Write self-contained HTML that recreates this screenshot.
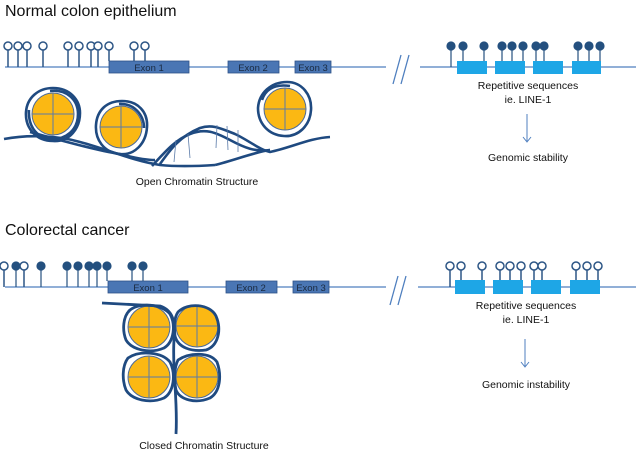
<!DOCTYPE html>
<html><head><meta charset="utf-8"><style>
html,body{margin:0;padding:0;background:#fff;}
svg{display:block;font-family:"Liberation Sans",sans-serif;}
</style></head><body>
<svg width="640" height="450" viewBox="0 0 640 450" xmlns="http://www.w3.org/2000/svg">
<defs>
<g id="nuc">
<circle r="21" fill="#fbb813" stroke="#4a6a9a" stroke-width="1"/>
<line x1="-21" y1="0" x2="21" y2="0" stroke="#5a7aa8" stroke-width="1"/>
<line x1="0" y1="-21" x2="0" y2="21" stroke="#5a7aa8" stroke-width="1"/>
</g>
</defs>
<text x="5" y="16" font-size="16" fill="#111">Normal colon epithelium</text>
<text x="5" y="235" font-size="16" fill="#111">Colorectal cancer</text>

<g stroke="#4f7fbf" stroke-width="1.3" fill="none">
<line x1="5" y1="67" x2="386" y2="67"/>
<line x1="420" y1="67" x2="636" y2="67"/>
<line x1="393" y1="84" x2="401" y2="55"/><line x1="401" y1="84" x2="409" y2="55"/>
<line x1="5" y1="287" x2="386" y2="287"/>
<line x1="418" y1="287" x2="636" y2="287"/>
<line x1="390" y1="305" x2="398" y2="276"/><line x1="398" y1="305" x2="406" y2="276"/>
</g>
<g fill="#4a76b4" stroke="#2e5288" stroke-width="0.8">
<rect x="109" y="61" width="80" height="12"/><rect x="228" y="61" width="51" height="12"/><rect x="295" y="61" width="36" height="12"/>
<rect x="108" y="281" width="80" height="12"/><rect x="226" y="281" width="51" height="12"/><rect x="293" y="281" width="36" height="12"/>
</g>
<g font-size="9.5" fill="#1a2a40" text-anchor="middle">
<text x="149" y="71">Exon 1</text><text x="253" y="71">Exon 2</text><text x="313" y="71">Exon 3</text>
<text x="148" y="291">Exon 1</text><text x="251" y="291">Exon 2</text><text x="311" y="291">Exon 3</text>
</g>
<g fill="#1ea6e6">
<rect x="457" y="61" width="30" height="13"/><rect x="495" y="61" width="30" height="13"/><rect x="533" y="61" width="30" height="13"/><rect x="572" y="61" width="29" height="13"/>
<rect x="455" y="280" width="30" height="14"/><rect x="493" y="280" width="30" height="14"/><rect x="531" y="280" width="30" height="14"/><rect x="570" y="280" width="30" height="14"/>
</g>
<g stroke="#4f7fbf" stroke-width="1.2">
<g fill="#fff" stroke="#2c5585" stroke-width="1.5">
<line x1="8" y1="50" x2="8" y2="67"/><circle cx="8" cy="46" r="4"/>
<line x1="18" y1="50" x2="18" y2="67"/><circle cx="18" cy="46" r="4"/>
<line x1="27" y1="50" x2="27" y2="67"/><circle cx="27" cy="46" r="4"/>
<line x1="43" y1="50" x2="43" y2="67"/><circle cx="43" cy="46" r="4"/>
<line x1="68" y1="50" x2="68" y2="67"/><circle cx="68" cy="46" r="4"/>
<line x1="79" y1="50" x2="79" y2="67"/><circle cx="79" cy="46" r="4"/>
<line x1="91" y1="50" x2="91" y2="67"/><circle cx="91" cy="46" r="4"/>
<line x1="98" y1="50" x2="98" y2="67"/><circle cx="98" cy="46" r="4"/>
<line x1="109" y1="50" x2="109" y2="61"/><circle cx="109" cy="46" r="4"/>
<line x1="134" y1="50" x2="134" y2="61"/><circle cx="134" cy="46" r="4"/>
<line x1="145" y1="50" x2="145" y2="61"/><circle cx="145" cy="46" r="4"/>
<line x1="450" y1="270" x2="450" y2="287"/><circle cx="450" cy="266" r="4"/>
<line x1="461" y1="270" x2="461" y2="280"/><circle cx="461" cy="266" r="4"/>
<line x1="482" y1="270" x2="482" y2="280"/><circle cx="482" cy="266" r="4"/>
<line x1="500" y1="270" x2="500" y2="280"/><circle cx="500" cy="266" r="4"/>
<line x1="510" y1="270" x2="510" y2="280"/><circle cx="510" cy="266" r="4"/>
<line x1="521" y1="270" x2="521" y2="280"/><circle cx="521" cy="266" r="4"/>
<line x1="534" y1="270" x2="534" y2="280"/><circle cx="534" cy="266" r="4"/>
<line x1="542" y1="270" x2="542" y2="280"/><circle cx="542" cy="266" r="4"/>
<line x1="576" y1="270" x2="576" y2="280"/><circle cx="576" cy="266" r="4"/>
<line x1="587" y1="270" x2="587" y2="280"/><circle cx="587" cy="266" r="4"/>
<line x1="598" y1="270" x2="598" y2="280"/><circle cx="598" cy="266" r="4"/>
<line x1="4" y1="270" x2="4" y2="287"/><circle cx="4" cy="266" r="4"/>
<line x1="24" y1="270" x2="24" y2="287"/><circle cx="24" cy="266" r="4"/>
</g>
<g fill="#24507f" stroke="#24507f" stroke-width="1.2">
<line x1="16" y1="270" x2="16" y2="287"/><circle cx="16" cy="266" r="4"/>
<line x1="41" y1="270" x2="41" y2="287"/><circle cx="41" cy="266" r="4"/>
<line x1="67" y1="270" x2="67" y2="287"/><circle cx="67" cy="266" r="4"/>
<line x1="78" y1="270" x2="78" y2="287"/><circle cx="78" cy="266" r="4"/>
<line x1="89" y1="270" x2="89" y2="287"/><circle cx="89" cy="266" r="4"/>
<line x1="97" y1="270" x2="97" y2="287"/><circle cx="97" cy="266" r="4"/>
<line x1="107" y1="270" x2="107" y2="281"/><circle cx="107" cy="266" r="4"/>
<line x1="132" y1="270" x2="132" y2="281"/><circle cx="132" cy="266" r="4"/>
<line x1="143" y1="270" x2="143" y2="281"/><circle cx="143" cy="266" r="4"/>
<line x1="451" y1="50" x2="451" y2="67"/><circle cx="451" cy="46" r="4"/>
<line x1="463" y1="50" x2="463" y2="61"/><circle cx="463" cy="46" r="4"/>
<line x1="484" y1="50" x2="484" y2="61"/><circle cx="484" cy="46" r="4"/>
<line x1="502" y1="50" x2="502" y2="61"/><circle cx="502" cy="46" r="4"/>
<line x1="512" y1="50" x2="512" y2="61"/><circle cx="512" cy="46" r="4"/>
<line x1="523" y1="50" x2="523" y2="61"/><circle cx="523" cy="46" r="4"/>
<line x1="536" y1="50" x2="536" y2="61"/><circle cx="536" cy="46" r="4"/>
<line x1="544" y1="50" x2="544" y2="61"/><circle cx="544" cy="46" r="4"/>
<line x1="578" y1="50" x2="578" y2="61"/><circle cx="578" cy="46" r="4"/>
<line x1="589" y1="50" x2="589" y2="61"/><circle cx="589" cy="46" r="4"/>
<line x1="600" y1="50" x2="600" y2="61"/><circle cx="600" cy="46" r="4"/>
</g>
</g>

<g font-size="10.5" fill="#111" text-anchor="middle">
<text x="528" y="89">Repetitive sequences</text>
<text x="528" y="103">ie. LINE-1</text>
<text x="528" y="161">Genomic stability</text>
<text x="526" y="309">Repetitive sequences</text>
<text x="526" y="323">ie.  LINE-1</text>
<text x="526" y="388">Genomic instability</text>
<text x="197" y="185">Open Chromatin Structure</text>
<text x="204" y="449">Closed Chromatin Structure</text>
</g>
<g stroke="#4f7fbf" stroke-width="1" fill="none">
<line x1="527" y1="114" x2="527" y2="141"/><polyline points="523,137 527,142 531,137"/>
<line x1="525" y1="339" x2="525" y2="366"/><polyline points="521,362 525,367 529,362"/>
</g>

<!-- open chromatin -->
<use href="#nuc" x="53" y="114"/>
<use href="#nuc" x="121" y="127"/>
<use href="#nuc" x="285" y="109"/>
<g stroke="#1f4a80" stroke-width="2.6" fill="none" stroke-linejoin="round">
<path d="M53 88 C70 88 80 100 80 113 C80 128 70 142 53 141 C36 141 25 128 26 112 C27 98 38 88 53 88 Z"/>
<path d="M50 91 C66 89 78 99 78 114 C78 130 66 140 50 139 C36 137 28 126 29 110"/>
<path d="M122 101 C138 101 148 112 147 127 C146 144 134 156 119 154 C104 152 95 140 96 125 C97 110 107 101 122 101 Z"/>
<path d="M119 104 C134 103 144 115 144 128"/>
<path d="M287 82 C302 82 312 95 311 110 C310 126 298 137 284 136 C268 135 258 123 258 108 C259 93 271 82 287 82 Z"/>
<path d="M262 100 C266 88 276 84 290 86"/>
<path d="M4 139 C30 134 60 136 80 142 C110 150 130 160 160 165 C180 167 200 166 215 165"/>
<path d="M30 132 C60 140 95 150 120 154 C135 158 145 160 155 160"/>
<path d="M152 166 C165 152 175 140 190 134 C205 128 215 132 230 140 C245 148 255 152 270 150"/>
<path d="M160 164 C170 150 180 136 200 128 C212 124 220 128 235 134 C248 140 260 150 270 152 C290 148 310 138 330 137"/>
<path d="M215 165 C235 160 255 152 270 150"/>
</g>
<g stroke="#5a7aa8" stroke-width="0.8">
<line x1="176" y1="140" x2="174" y2="162"/><line x1="188" y1="134" x2="190" y2="158"/>
<line x1="217" y1="125" x2="216" y2="148"/><line x1="227" y1="126" x2="228" y2="150"/><line x1="238" y1="130" x2="238" y2="152"/>
</g>

<!-- closed chromatin -->
<use href="#nuc" x="149" y="327"/>
<use href="#nuc" x="197" y="326"/>
<use href="#nuc" x="149" y="377"/>
<use href="#nuc" x="197" y="377"/>
<g stroke="#1f4a80" stroke-width="2.8" fill="none" stroke-linejoin="round">
<path d="M102 303 L160 306 C172 310 176 320 174 340 C172 370 178 400 176 434"/>
<path d="M130 310 C140 302 162 304 170 314 C176 325 174 342 164 348 C150 354 132 350 126 340 C122 330 123 316 130 310 Z"/>
<path d="M178 312 C188 302 210 304 216 316 C222 330 218 346 206 350 C192 352 178 348 175 336 C174 326 174 318 178 312 Z"/>
<path d="M128 358 C140 350 162 352 170 362 C176 374 174 392 164 398 C150 404 132 400 126 390 C122 380 122 366 128 358 Z"/>
<path d="M178 360 C190 352 210 352 217 362 C222 376 220 392 210 398 C196 404 180 400 176 390 C174 380 174 368 178 360 Z"/>
</g>
</svg>
</body></html>
